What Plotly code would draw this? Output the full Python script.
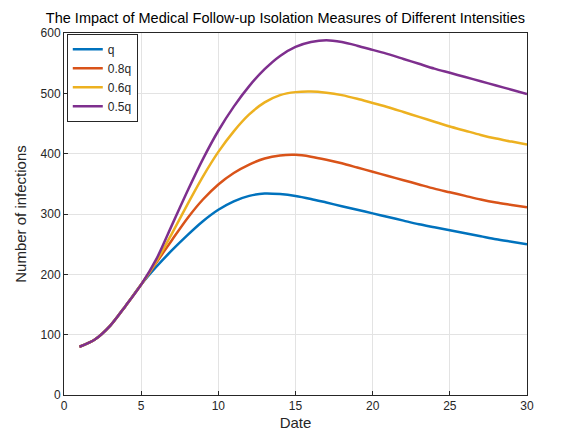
import plotly.graph_objects as go

days = list(range(1, 31))
early = [80, 92, 115, 148, 183]
q = early + [213, 240, 265, 288, 307, 321, 330, 334, 333, 330, 325, 319, 313, 307, 301,
             295, 289, 283, 278, 273, 268, 263, 258, 254, 250]
q08 = early + [220, 257, 293, 324, 349, 368, 382, 392, 397, 398, 395, 390, 384, 377, 370,
               363, 356, 349, 342, 336, 330, 324, 319, 315, 311]
q06 = early + [222, 268, 316, 362, 403, 437, 465, 485, 497, 502, 503, 501, 497, 491, 484,
               477, 469, 461, 453, 445, 438, 431, 425, 420, 415]
q05 = early + [226, 282, 338, 391, 438, 478, 512, 540, 562, 577, 585, 588, 585, 579, 572,
               565, 557, 549, 541, 534, 527, 520, 513, 506, 499]

names = ["q", "0.8q", "0.6q", "0.5q"]
series = [q, q08, q06, q05]
colors = ["#0072BD", "#D95319", "#EDB120", "#7E2F8E"]

fig = go.Figure()
for n, s, c in zip(names, series, colors):
    fig.add_trace(go.Scatter(x=days, y=s, mode="lines", name=n,
                             line=dict(color=c, width=2.5, shape="spline", smoothing=0.8)))

axis_common = dict(showline=True, linecolor="#262626", linewidth=1, mirror=True,
                   ticks="inside", ticklen=4, tickcolor="#262626",
                   showgrid=True, gridcolor="#E3E3E3", gridwidth=1, zeroline=False,
                   tickfont=dict(size=12, color="#262626"))
fig.update_layout(
    width=555, height=433,
    margin=dict(l=55, r=36, t=25, b=43),
    paper_bgcolor="white", plot_bgcolor="white",
    font=dict(family="Liberation Sans, Arial, sans-serif", color="#262626"),
    title=dict(text="The Impact of Medical Follow-up Isolation Measures of Different Intensities",
               x=0.5, xanchor="center", y=0.977, yanchor="middle",
               font=dict(size=14.5, color="#000000")),
    xaxis=dict(range=[0, 30], tickvals=[0, 5, 10, 15, 20, 25, 30],
               title=dict(text="Date", font=dict(size=15), standoff=5), **axis_common),
    yaxis=dict(range=[0, 600], tickvals=[0, 100, 200, 300, 400, 500, 600],
               title=dict(text="Number of infections", font=dict(size=15), standoff=10), **axis_common),
    legend=dict(x=0.006, y=0.998, xanchor="left", yanchor="top",
                bgcolor="white", bordercolor="#262626", borderwidth=1,
                font=dict(size=12), tracegroupgap=0, itemwidth=30),
    showlegend=True,
)
fig.write_html("out.html")
